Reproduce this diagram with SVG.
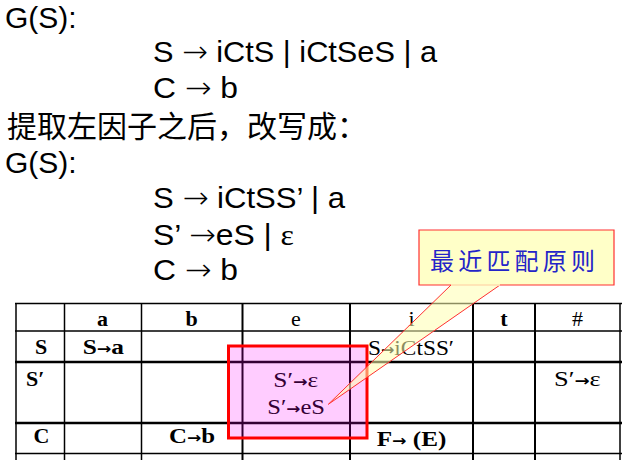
<svg xmlns="http://www.w3.org/2000/svg" width="639" height="460" viewBox="0 0 639 460">
<style>
.main{font-family:"Liberation Sans",Arial,sans-serif;font-size:30px;fill:#000}
.arw{font-family:"DejaVu Sans",sans-serif;font-size:30px;font-weight:200}
.cjk{font-family:"Noto Sans CJK SC",sans-serif;font-size:30px;fill:#000}
.ser{font-family:"Liberation Serif","Times New Roman",serif}
.tl{stroke:#000;fill:none}
.tb{font-family:"Liberation Serif","Times New Roman",serif;font-size:22px;font-weight:bold;fill:#000}
.tr{font-family:"Liberation Serif","Times New Roman",serif;font-size:22px;font-weight:normal;fill:#000}
.ar{font-family:"DejaVu Sans",sans-serif;font-size:15px;font-weight:bold}
.hd{text-anchor:middle}
.callout-text{font-family:"Noto Sans CJK SC",sans-serif;font-size:24px;fill:#2424c8;letter-spacing:4.2px}
</style>
<rect x="0" y="0" width="639" height="460" fill="#ffffff"/>

<g id="grammar1">
<text class="main" x="5" y="28">G(S):</text>
<text class="main" x="153" y="62" textLength="284" lengthAdjust="spacingAndGlyphs">S <tspan class="arw">→</tspan> iCtS | iCtSeS | a</text>
<text class="main" x="153" y="98" textLength="85" lengthAdjust="spacingAndGlyphs">C <tspan class="arw">→</tspan> b</text>
</g>

<g id="rewrite-note">
<text class="cjk" x="7" y="137">提取左因子之后，改写成：</text>
</g>

<g id="grammar2">
<text class="main" x="5" y="173">G(S):</text>
<text class="main" x="153" y="208" textLength="192" lengthAdjust="spacingAndGlyphs">S <tspan class="arw">→</tspan> iCtSS’ | a</text>
<text class="main" x="153" y="245" textLength="141" lengthAdjust="spacingAndGlyphs">S’ <tspan class="arw">→</tspan>eS | <tspan class="ser">ε</tspan></text>
<text class="main" x="153" y="280" textLength="85" lengthAdjust="spacingAndGlyphs">C <tspan class="arw">→</tspan> b</text>
</g>

<g id="table">
<g id="table-lines">
<line class="tl" x1="15" y1="303.5" x2="622" y2="303.5" stroke-width="1.5"/>
<line class="tl" x1="15" y1="331" x2="622" y2="331" stroke-width="1.5"/>
<line class="tl" x1="15" y1="362" x2="622" y2="362" stroke-width="2.5"/>
<line class="tl" x1="15" y1="423" x2="622" y2="423" stroke-width="2.5"/>
<line class="tl" x1="15" y1="453.5" x2="622" y2="453.5" stroke-width="1.5"/>
<line class="tl" x1="16" y1="303" x2="16" y2="460" stroke-width="1.5"/>
<line class="tl" x1="64.5" y1="303" x2="64.5" y2="460" stroke-width="1.5"/>
<line class="tl" x1="141.5" y1="303" x2="141.5" y2="460" stroke-width="1.5"/>
<line class="tl" x1="242.5" y1="303" x2="242.5" y2="460" stroke-width="2"/>
<line class="tl" x1="350" y1="303" x2="350" y2="460" stroke-width="2"/>
<line class="tl" x1="473" y1="303" x2="473" y2="460" stroke-width="2"/>
<line class="tl" x1="535" y1="303" x2="535" y2="460" stroke-width="2"/>
<line class="tl" x1="620" y1="303" x2="620" y2="460" stroke-width="1.5"/>
</g>
<g id="table-header">
<text class="tb hd" x="102.5" y="325.5">a</text>
<text class="tb hd" x="191.5" y="325.5">b</text>
<text class="tr hd" x="296" y="325.5">e</text>
<text class="tr hd" x="411.5" y="325.5">i</text>
<text class="tb hd" x="504" y="325.5">t</text>
<text class="tr hd" x="577.5" y="325.5">#</text>
</g>
<g id="table-rows">
<text class="tb hd" x="41" y="354">S</text>
<text class="tb" x="26" y="386">S′</text>
<text class="tb hd" x="41.5" y="443">C</text>
<text class="tb" x="82.7" y="354.3" textLength="41.3" lengthAdjust="spacingAndGlyphs">S<tspan class="ar">→</tspan>a</text>
<text class="tb" x="169" y="443" textLength="46" lengthAdjust="spacingAndGlyphs">C<tspan class="ar">→</tspan>b</text>
<text class="tr" x="273.3" y="386.7" textLength="45" lengthAdjust="spacingAndGlyphs">S′<tspan class="ar">→</tspan>ε</text>
<text class="tr" x="267.3" y="414.3" textLength="57.7" lengthAdjust="spacingAndGlyphs">S′<tspan class="ar">→</tspan>eS</text>
<text class="tr" x="368" y="355" textLength="86" lengthAdjust="spacingAndGlyphs">S<tspan class="ar">→</tspan>iCtSS′</text>
<text class="tb" x="376.7" y="445.7" textLength="69.6" lengthAdjust="spacingAndGlyphs">F<tspan class="ar">→</tspan> (E)</text>
<text class="tr" x="554" y="385.7" textLength="46.7" lengthAdjust="spacingAndGlyphs">S′<tspan class="ar">→</tspan>ε</text>
</g>
</g>

<g id="highlight">
<rect x="228.5" y="346" width="138.5" height="92" fill="#ff00ff" fill-opacity="0.2" stroke="#ff0000" stroke-width="3"/>
</g>

<g id="connectors">
<path d="M451,285 L328.3,404.3 L500,285" fill="#ffffb0" fill-opacity="0.55" stroke="#ff3030" stroke-width="1"/>
</g>

<g id="callout">
<path d="M419,230 H614 V285 H500 L451,285 H419 Z" fill="#ffffc8" stroke="#ff3030" stroke-width="1.2"/>
<line x1="451" y1="285" x2="500" y2="285" stroke="#ffffc8" stroke-width="1.6"/>
<text class="callout-text" x="430" y="269.5">最近匹配原则</text>
</g>
</svg>
